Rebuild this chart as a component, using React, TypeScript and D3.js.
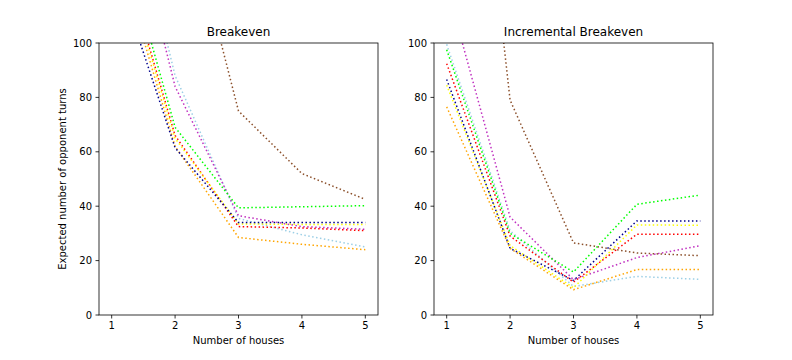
import React from "react";
import * as d3 from "d3";

const houses = [1, 2, 3, 4, 5];
const groupNames = ["brown", "lightblue", "magenta", "orange", "red", "yellow", "green", "darkblue"];
const groupColors = ["#8b4f2a", "#9ccfe6", "#c030c0", "#ffa500", "#ff0000", "#ffff00", "#00ff00", "#00008b"];

// Breakeven (expected number of opponent turns)
const breakBrown = [300, 166, 75, 52, 42.5];
const breakLightblue = [184, 88, 35.5, 29.5, 25];
const breakMagenta = [178, 84, 36.5, 32.5, 31.5];
const breakOrange = [141, 62, 28.5, 26, 24];
const breakRed = [146, 66, 32.5, 32, 31];
const breakYellow = [144, 65, 33.5, 33.3, 33.3];
const breakGreen = [152, 69, 39.4, 39.8, 40.2];
const breakDarkblue = [131.5, 61.5, 34, 34, 34];

// Incremental breakeven
const incBrown = [289, 79, 26.5, 22.8, 21.8];
const incLightblue = [99.5, 31, 10.5, 14.2, 13.1];
const incMagenta = [121, 36, 13, 21.1, 25.5];
const incOrange = [76.5, 24.5, 9.3, 16.7, 16.7];
const incRed = [92.4, 29, 12.1, 29.7, 29.7];
const incYellow = [84.5, 25.5, 10, 33.1, 33];
const incGreen = [97.5, 30, 15.8, 40.7, 44.1];
const incDarkblue = [86.6, 24.5, 12.7, 34.6, 34.6];

const yTicks = [0, 20, 40, 60, 80, 100];
const xTicks = [1, 2, 3, 4, 5];

const panels = [
  {
    title: "Breakeven",
    x0: 99,
    x1: 378,
    series: [breakBrown, breakLightblue, breakMagenta, breakOrange, breakRed, breakYellow, breakGreen, breakDarkblue],
  },
  {
    title: "Incremental Breakeven",
    x0: 434,
    x1: 713,
    series: [incBrown, incLightblue, incMagenta, incOrange, incRed, incYellow, incGreen, incDarkblue],
  },
];

const TOP = 43;
const BOTTOM = 315;
const FONT = "DejaVu Sans, sans-serif";

export default function App() {
  const y = d3.scaleLinear().domain([0, 100]).range([BOTTOM, TOP]);
  return (
    <svg
      width={792}
      height={360}
      style={{ position: "absolute", left: 0, top: 0, background: "#fff" }}
      fontFamily={FONT}
    >
      <rect x={0} y={0} width={792} height={360} fill="#fff" />
      <defs>
        {panels.map((p, i) => (
          <clipPath id={`clip${i}`} key={i}>
            <rect x={p.x0} y={TOP} width={p.x1 - p.x0} height={BOTTOM - TOP} />
          </clipPath>
        ))}
      </defs>
      {panels.map((p, i) => {
        const x = d3.scaleLinear().domain([0.8, 5.2]).range([p.x0, p.x1]);
        const line = d3
          .line<number>()
          .x((_, j) => x(houses[j]))
          .y((v) => y(v));
        return (
          <g key={i}>
            <g clipPath={`url(#clip${i})`}>
              {p.series.map((s, k) => (
                <path
                  key={groupNames[k]}
                  d={line(s) || ""}
                  fill="none"
                  stroke={groupColors[k]}
                  strokeWidth={1.5}
                  strokeDasharray="1.5,2.475"
                />
              ))}
            </g>
            <rect
              x={p.x0}
              y={TOP}
              width={p.x1 - p.x0}
              height={BOTTOM - TOP}
              fill="none"
              stroke="#000"
              strokeWidth={0.8}
            />
            {yTicks.map((t) => (
              <g key={t}>
                <line x1={p.x0 - 3.5} x2={p.x0} y1={y(t)} y2={y(t)} stroke="#000" strokeWidth={0.8} />
                <text x={p.x0 - 7} y={y(t)} dy="0.35em" textAnchor="end" fontSize={10}>
                  {t}
                </text>
              </g>
            ))}
            {xTicks.map((t) => (
              <g key={t}>
                <line x1={x(t)} x2={x(t)} y1={BOTTOM} y2={BOTTOM + 3.5} stroke="#000" strokeWidth={0.8} />
                <text x={x(t)} y={BOTTOM + 14} textAnchor="middle" fontSize={10}>
                  {t}
                </text>
              </g>
            ))}
            <text x={(p.x0 + p.x1) / 2} y={TOP - 7} textAnchor="middle" fontSize={12}>
              {p.title}
            </text>
            <text x={(p.x0 + p.x1) / 2} y={BOTTOM + 29} textAnchor="middle" fontSize={10}>
              Number of houses
            </text>
          </g>
        );
      })}
      <text
        transform={`translate(66,${(TOP + BOTTOM) / 2}) rotate(-90)`}
        textAnchor="middle"
        fontSize={10}
      >
        Expected number of opponent turns
      </text>
    </svg>
  );
}
